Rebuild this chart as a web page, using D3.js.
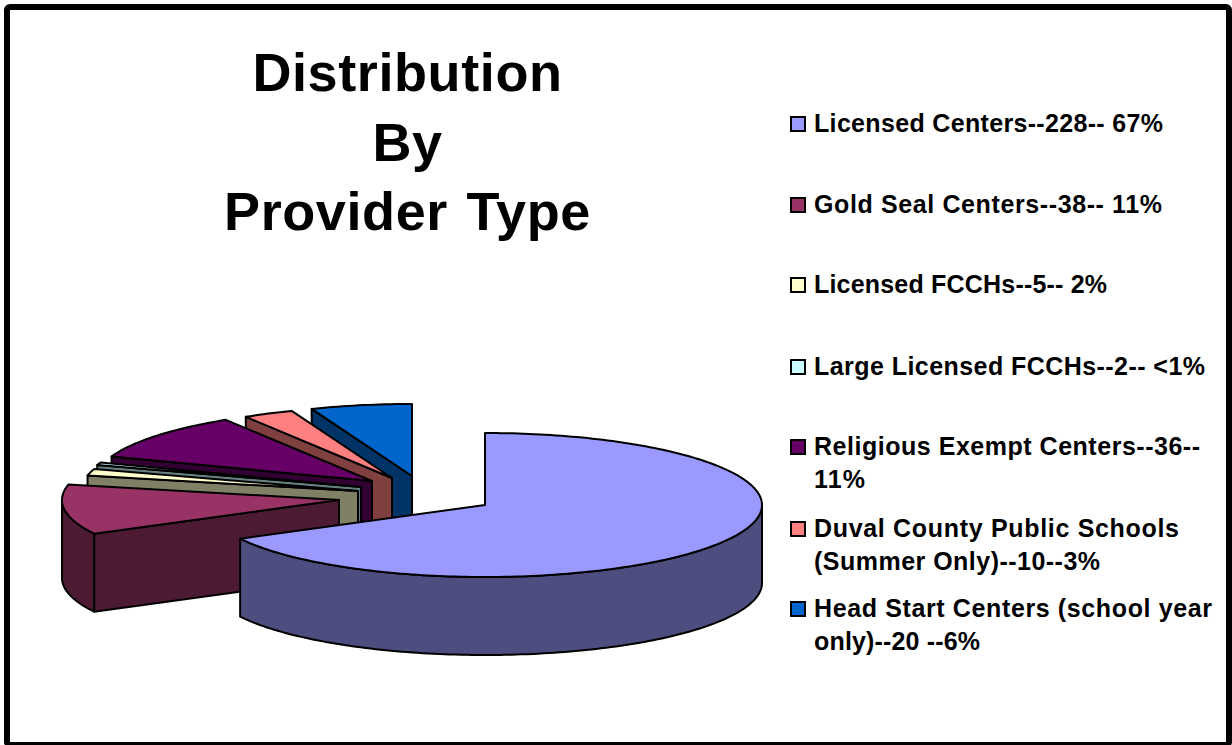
<!DOCTYPE html>
<html><head><meta charset="utf-8">
<script src="https://cdn.jsdelivr.net/npm/d3@7"></script>
<style>html,body{margin:0;padding:0;background:#fff;overflow:hidden}svg{display:block}
text{font-family:"Liberation Sans",Arial,sans-serif;font-weight:bold;fill:#000}</style>
</head><body><svg id="c" width="1232" height="745"></svg>
<script>
// data
const titleLines = ["Distribution", "By", "Provider Type"];
const providers = ["Licensed Centers", "Gold Seal Centers", "Licensed FCCHs", "Large Licensed FCCHs", "Religious Exempt Centers", "Duval County Public Schools", "Head Start Centers"];
const counts = [228, 38, 5, 2, 36, 10, 20];
const legendLabels = [
  ["Licensed Centers--228-- 67%"],
  ["Gold Seal Centers--38-- 11%"],
  ["Licensed FCCHs--5-- 2%"],
  ["Large Licensed FCCHs--2-- <1%"],
  ["Religious Exempt Centers--36--", "11%"],
  ["Duval County Public Schools", "(Summer Only)--10--3%"],
  ["Head Start Centers (school year", "only)--20 --6%"]
];
// styles
const topColors = ["#9999FF", "#993366", "#FFFFCC", "#CCFFFF", "#660066", "#FF8080", "#0066CC"];
const wallColors = ["#4D4D80", "#4D1A33", "#808066", "#668080", "#330033", "#804040", "#003366"];
// layout: exploded position of each slice's apex, relative to the first slice
const explode = [[0,0],[-146,-5],[-127,-14],[-124,-18],[-113,-24],[-93,-27],[-73,-29]];
const center = {x:485, y:505}, rx = 277, ry = 72, depth = 78;
const legendBaselines = [132, 213, 293, 375, 455, 537, 617];
const legendLine = 33;
const legendWidths = [[349],[348],[293],[391],[386,51],[365,286],[398,166]];

const svg = d3.select("#c");
svg.append("rect").attr("x",7).attr("y",7).attr("width",1222).attr("height",738).attr("rx",3)
  .attr("fill","#fff").attr("stroke","#000").attr("stroke-width",6);

svg.selectAll("text.title").data(titleLines).join("text").attr("class","title")
  .attr("x",407.5).attr("y",(d,i)=>[91,161,230][i]).attr("text-anchor","middle")
  .attr("font-size",54).attr("letter-spacing",0.6).attr("word-spacing",3).text(d=>d);

const arcs = d3.pie().sort(null)(counts);
const line = d3.line();
const pt = (o,a,dz=0)=>[center.x+o[0]+rx*Math.sin(a), center.y+o[1]-ry*Math.cos(a)+dz];
const apex = (o,dz=0)=>[center.x+o[0], center.y+o[1]+dz];
const samples = (a0,a1)=>{const n=Math.max(2,Math.ceil((a1-a0)/0.02));return d3.range(n+1).map(i=>a0+(a1-a0)*i/n);};

const order = d3.range(counts.length).reverse();
const g = svg.append("g").attr("stroke","#000").attr("stroke-width",2).attr("stroke-linejoin","round");
order.forEach(i=>{
  const a = arcs[i], o = explode[i];
  const slice = g.append("g").attr("class","slice");
  if(i>0){
    slice.append("path").attr("fill",wallColors[i])
      .attr("d",line([apex(o),pt(o,a.startAngle),pt(o,a.startAngle,depth),apex(o,depth)])+"Z");
  }
  const lo=Math.max(a.startAngle,Math.PI/2), hi=Math.min(a.endAngle,3*Math.PI/2);
  if(lo<hi){
    const s=samples(lo,hi);
    slice.append("path").attr("fill",wallColors[i])
      .attr("d",line(s.map(t=>pt(o,t)).concat(s.slice().reverse().map(t=>pt(o,t,depth))))+"Z");
  }
  slice.append("path").attr("fill",topColors[i])
    .attr("d",line([apex(o)].concat(samples(a.startAngle,a.endAngle).map(t=>pt(o,t))))+"Z");
});

const leg = svg.selectAll("g.leg").data(legendLabels).join("g").attr("class","leg");
leg.append("rect").attr("x",791).attr("y",(d,i)=>legendBaselines[i]-15).attr("width",14).attr("height",14)
  .attr("fill",(d,i)=>topColors[i]).attr("stroke","#000").attr("stroke-width",2);
leg.each(function(lines,i){
  d3.select(this).selectAll("text").data(lines).join("text")
    .attr("x",814).attr("y",(d,j)=>legendBaselines[i]+j*legendLine)
    .attr("font-size",25).attr("textLength",(d,j)=>legendWidths[i][j]).attr("lengthAdjust","spacing").text(d=>d);
});
</script></body></html>
